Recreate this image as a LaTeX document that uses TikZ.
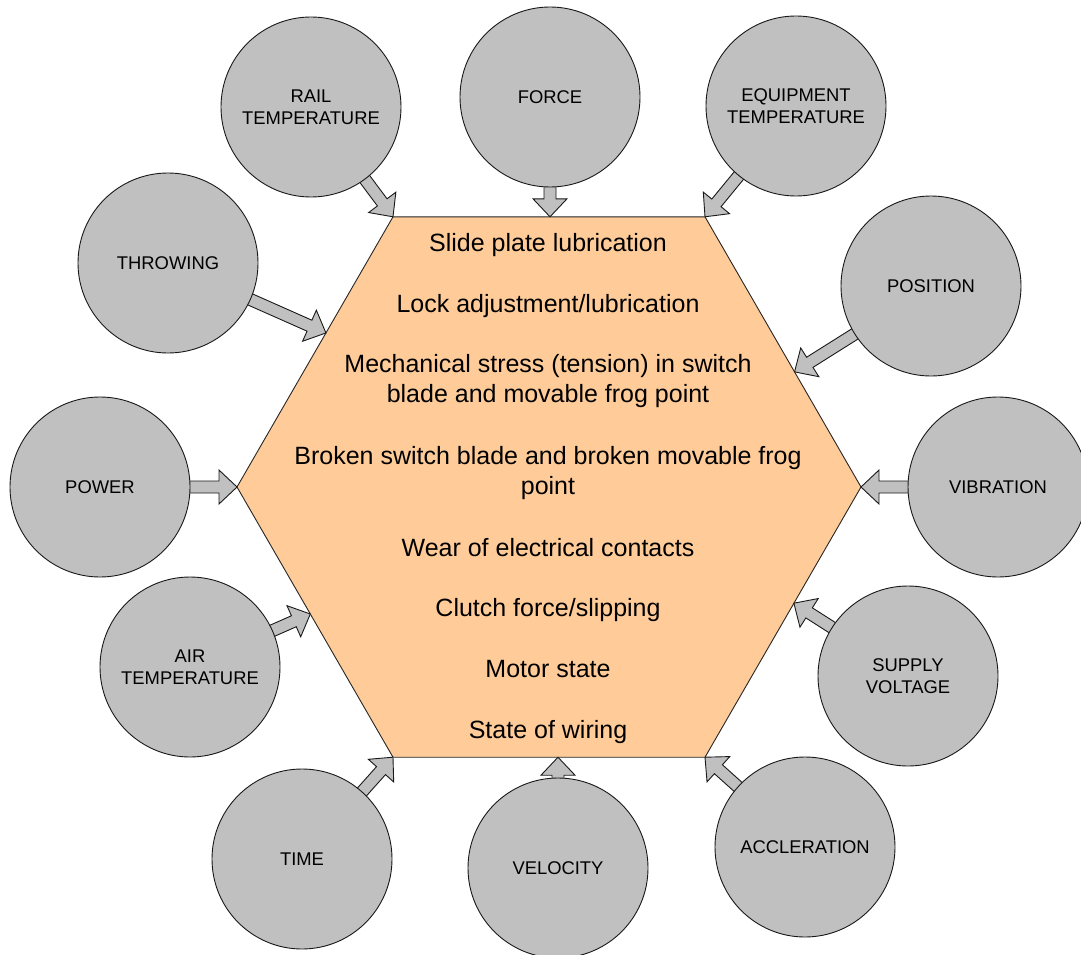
\documentclass[tikz,border=0pt]{standalone}
\usepackage{fontspec}
\setmainfont{Liberation Sans}
\usetikzlibrary{calc}
\definecolor{circgray}{HTML}{C0C0C0}
\definecolor{hexorange}{HTML}{FFCC99}
\pgfdeclarelayer{hexlayer}
\pgfdeclarelayer{arrowlayer}
\pgfsetlayers{hexlayer,arrowlayer,main}
\tikzset{
  circ/.style={circle, draw=black!90, line width=0.9pt, fill=circgray, minimum size=180pt,
    inner sep=0pt, align=center, font=\fontsize{18.4}{22}\selectfont},
  hexshape/.style={draw=black!85, line width=0.9pt, fill=hexorange},
  hextext/.style={inner sep=0pt, align=center, font=\fontsize{25}{30}\selectfont},
  blockarr/.style={draw=black!90, line width=0.9pt, fill=circgray, line join=miter},
}
\newcommand{\blockarrow}[2]{%
  \draw[blockarr]
    ($(#1.center)!6pt!-90:(#2)$) --
    ($(#2)!18pt!(#1.center)!6pt!90:(#1.center)$) --
    ($(#2)!18pt!(#1.center)!17pt!90:(#1.center)$) --
    (#2) --
    ($(#2)!18pt!(#1.center)!17pt!-90:(#1.center)$) --
    ($(#2)!18pt!(#1.center)!6pt!-90:(#1.center)$) --
    ($(#1.center)!6pt!90:(#2)$) -- cycle;}
\begin{document}
\begin{tikzpicture}[x=1pt,y=-1pt]
\useasboundingbox (0,0) rectangle (1081,955);
% hexagon
\coordinate (hL)  at (237,487);
\coordinate (hTL) at (393,216.8);
\coordinate (hTR) at (705,216.8);
\coordinate (hR)  at (861,487);
\coordinate (hBR) at (705,757.2);
\coordinate (hBL) at (393,757.2);
\begin{pgfonlayer}{hexlayer}
\draw[hexshape] (hL) -- (hTL) -- (hTR) -- (hR) -- (hBR) -- (hBL) -- cycle;
\end{pgfonlayer}
% hexagon texts
\node[hextext, anchor=base] (t1) at (548,251) {Slide plate lubrication};
\node[hextext, anchor=base] (t2) at (548,312) {Lock adjustment/lubrication};
\node[hextext] (t3) at (548,381) {Mechanical stress (tension) in switch\\blade and movable frog point};
\node[hextext] (t4) at (548,473.5) {Broken switch blade and broken movable frog\\point};
\node[hextext, anchor=base] (t5) at (548,556) {Wear of electrical contacts};
\node[hextext, anchor=base] (t6) at (548,616) {Clutch force/slipping};
\node[hextext, anchor=base] (t7) at (548,677) {Motor state};
\node[hextext, anchor=base] (t8) at (548,738) {State of wiring};
% circles
\node[circ] (rail)  at (311,107) {RAIL\\TEMPERATURE};
\node[circ] (force) at (550,97)  {FORCE};
\node[circ] (equip) at (796,106) {EQUIPMENT\\TEMPERATURE};
\node[circ] (throw) at (168,263) {THROWING};
\node[circ] (pos)   at (931,286) {POSITION};
\node[circ] (power) at (100,487) {POWER};
\node[circ] (vib)   at (998,487) {VIBRATION};
\node[circ] (air)   at (190,667) {AIR\\TEMPERATURE};
\node[circ] (supply) at (908,676) {SUPPLY\\VOLTAGE};
\node[circ] (time)  at (302,859) {TIME};
\node[circ] (vel)   at (558,868) {VELOCITY};
\node[circ] (acc)   at (805,847) {ACCLERATION};
% arrow tips on the hexagon
\coordinate (tRail)  at (hTL);
\coordinate (tForce) at ($(hTL)!(force.center)!(hTR)$);
\coordinate (tEquip) at (hTR);
\coordinate (tThrow) at ($(hTL)!0.43!(hL)$);
\coordinate (tPos)   at ($(hTR)!0.574!(hR)$);
\coordinate (tPower) at (hL);
\coordinate (tVib)   at (hR);
\coordinate (tAir)   at ($(hL)!0.47!(hBL)$);
\coordinate (tSup)   at ($(hR)!0.43!(hBR)$);
\coordinate (tTime)  at (hBL);
\coordinate (tVel)   at ($(hBL)!(vel.center)!(hBR)$);
\coordinate (tAcc)   at (hBR);
\begin{pgfonlayer}{arrowlayer}
\blockarrow{rail}{tRail}
\blockarrow{force}{tForce}
\blockarrow{equip}{tEquip}
\blockarrow{throw}{tThrow}
\blockarrow{pos}{tPos}
\blockarrow{power}{tPower}
\blockarrow{vib}{tVib}
\blockarrow{air}{tAir}
\blockarrow{supply}{tSup}
\blockarrow{time}{tTime}
\blockarrow{vel}{tVel}
\blockarrow{acc}{tAcc}
\end{pgfonlayer}
\end{tikzpicture}
\end{document}
